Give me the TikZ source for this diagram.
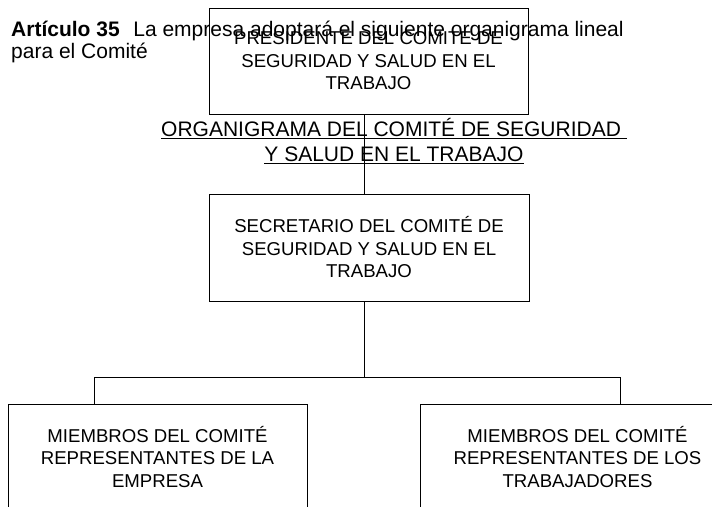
\documentclass[tikz,border=0pt]{standalone}
\usepackage{fontspec}
\setmainfont{Liberation Sans}
\begin{document}
\begin{tikzpicture}[x=1pt, y=-1pt,
    cargo/.style={draw, line width=0.8pt, align=center, inner sep=0pt,
                  font=\fontsize{18.6}{22.5}\selectfont},
    linea/.style={line width=0.8pt}]
    \useasboundingbox (0,0) rectangle (712,506);

    % Texto del articulo
    \node[anchor=north west, align=left, inner sep=0pt,
          font=\fontsize{21}{22}\selectfont] (art) at (11,20.5)
        {\textbf{Artículo 35}\hspace{0.65em}La empresa adoptará el siguiente organigrama lineal\\para el Comité};

    % Cargos del comite
    \node[cargo, minimum width=319pt, minimum height=106pt] (pres) at (368.5,61)
        {PRESIDENTE DEL COMITE DE\\SEGURIDAD Y SALUD EN EL\\TRABAJO};
    \node[cargo, minimum width=320pt, minimum height=107pt] (sec) at (369,247.5)
        {SECRETARIO DEL COMITÉ DE\\SEGURIDAD Y SALUD EN EL\\TRABAJO};
    \node[cargo, minimum width=299pt, minimum height=106pt] (emp) at (157.5,457)
        {MIEMBROS DEL COMITÉ\\REPRESENTANTES DE LA\\EMPRESA};
    \node[cargo, minimum width=315pt, minimum height=106pt] (trab) at (577.5,457)
        {MIEMBROS DEL COMITÉ\\REPRESENTANTES DE LOS\\TRABAJADORES};

    % Titulo subrayado
    \node[inner sep=0pt, align=center, font=\fontsize{21}{25}\selectfont] (titulo) at (394,141)
        {\underline{ORGANIGRAMA DEL COMITÉ DE SEGURIDAD\ }\\\underline{Y SALUD EN EL TRABAJO}};

    % Lineas de mando
    \coordinate (tronco) at (364,377);
    \coordinate (izq) at (94.5,377);
    \coordinate (der) at (620,377);
    \draw[linea] (pres.south -| tronco) -- (sec.north -| tronco);
    \draw[linea] (sec.south -| tronco) -- (tronco);
    \draw[linea] (izq) -- (der);
    \draw[linea] (izq) -- (emp.north -| izq);
    \draw[linea] (der) -- (trab.north -| der);
\end{tikzpicture}
\end{document}
